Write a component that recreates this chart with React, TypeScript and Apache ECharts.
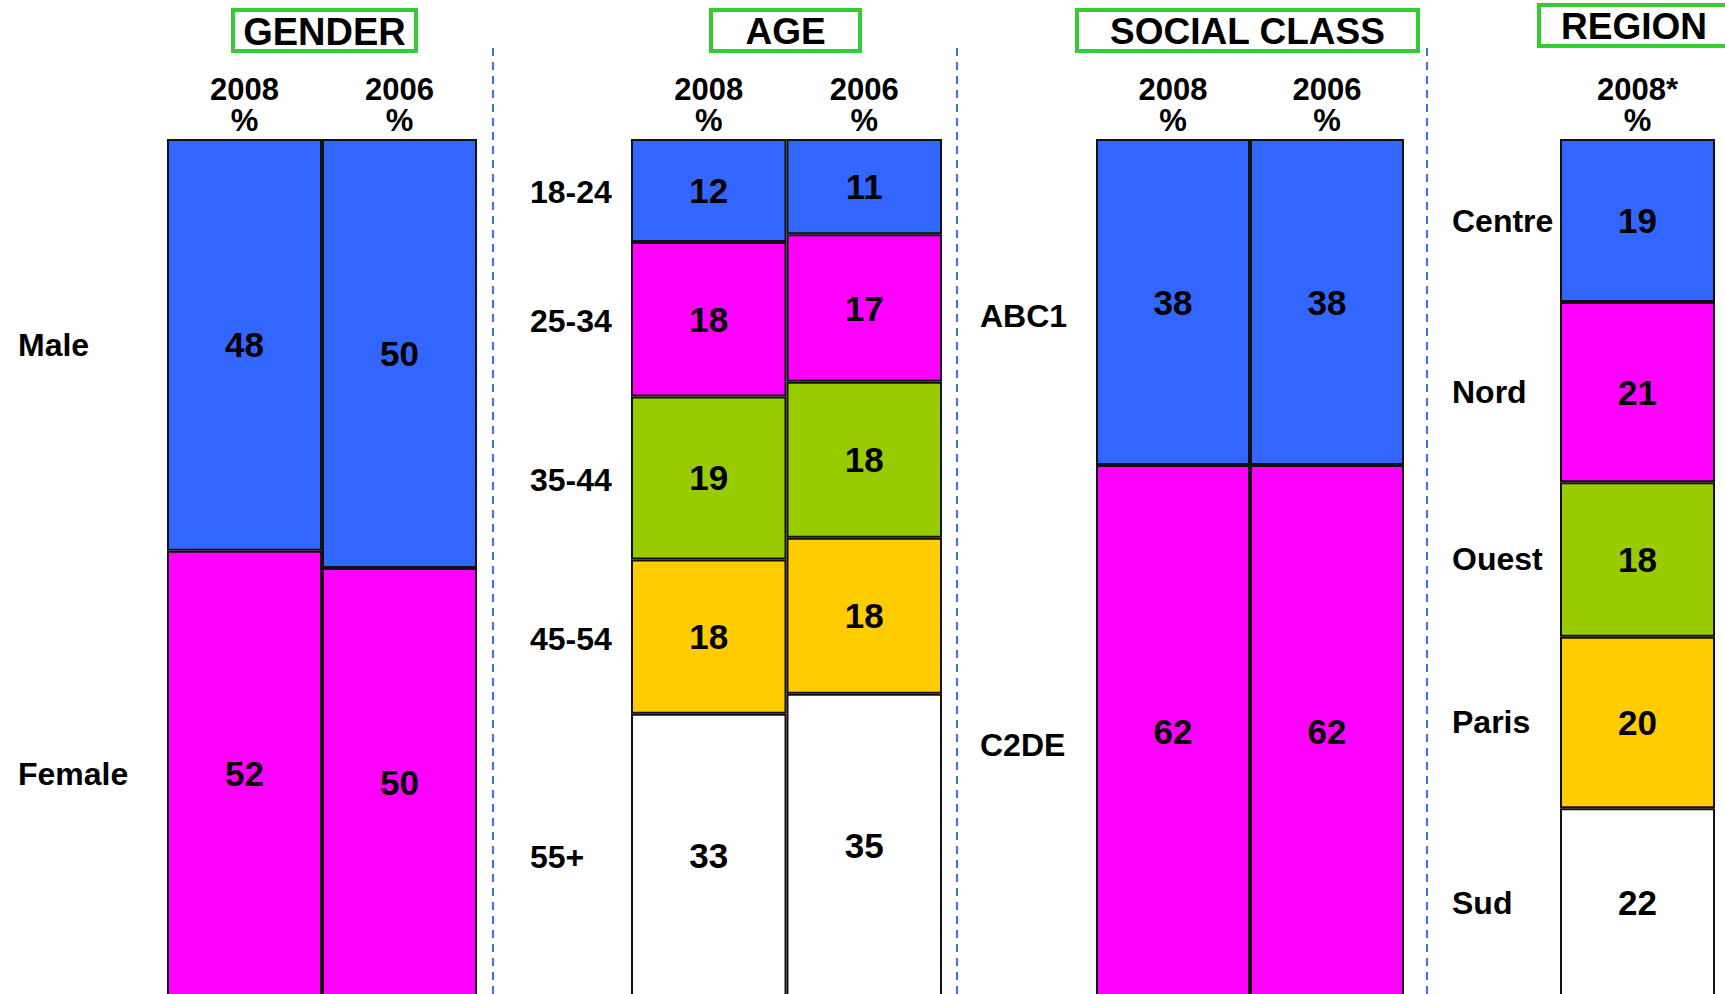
import React, { useEffect, useRef } from "react";
import * as echarts from "echarts";

// Survey profile data (percentages)
const genderYears = ["2008", "2006"];
const genderGroups = ["Male", "Female"];
const genderValues = [
  [48, 50],
  [52, 50],
];

const ageYears = ["2008", "2006"];
const ageGroups = ["18-24", "25-34", "35-44", "45-54", "55+"];
const ageValues = [
  [12, 11],
  [18, 17],
  [19, 18],
  [18, 18],
  [33, 35],
];

const classYears = ["2008", "2006"];
const classGroups = ["ABC1", "C2DE"];
const classValues = [
  [38, 38],
  [62, 62],
];

const regionYears = ["2008*"];
const regionGroups = ["Centre", "Nord", "Ouest", "Paris", "Sud"];
const regionValues = [[19], [21], [18], [20], [22]];

const segmentColors = ["#3366ff", "#ff00ff", "#99cc00", "#ffcc00", "#ffffff"];
const FONT = '"Liberation Sans", Arial, Helvetica, sans-serif';

type Panel = {
  title: string;
  titleSize: number;
  box: [number, number, number, number];
  gridLeft: number;
  gridWidth: number;
  labelX: number;
  labelDy: number;
  years: string[];
  groups: string[];
  values: number[][];
};

const panels: Panel[] = [
  { title: "GENDER", titleSize: 38, box: [233, 10, 183, 41], gridLeft: 167, gridWidth: 310, labelX: 18, labelDy: 0, years: genderYears, groups: genderGroups, values: genderValues },
  { title: "AGE", titleSize: 37, box: [711, 10, 149, 41], gridLeft: 631, gridWidth: 311, labelX: 530, labelDy: 2, years: ageYears, groups: ageGroups, values: ageValues },
  { title: "SOCIAL CLASS", titleSize: 37, box: [1077, 10, 341, 41], gridLeft: 1096, gridWidth: 308, labelX: 980, labelDy: 14, years: classYears, groups: classGroups, values: classValues },
  { title: "REGION", titleSize: 37, box: [1539, 5, 190, 41], gridLeft: 1560, gridWidth: 155, labelX: 1452, labelDy: 0, years: regionYears, groups: regionGroups, values: regionValues },
];

const dividerX = [493, 957, 1427];
const GRID_TOP = 139;
const GRID_HEIGHT = 858;
// the chart runs a little past the visible frame so the bars stay open at the bottom
const CHART_HEIGHT = 1012;

export default function App() {
  const ref = useRef<HTMLDivElement>(null);

  useEffect(() => {
    if (!ref.current) return;
    const chart = echarts.init(ref.current, undefined, { renderer: "svg" });

    const grids: any[] = [];
    const xAxes: any[] = [];
    const yAxes: any[] = [];
    const series: any[] = [];
    const firstSeriesOfPanel: number[] = [];

    panels.forEach((p, pi) => {
      grids.push({ left: p.gridLeft, top: GRID_TOP, width: p.gridWidth, height: GRID_HEIGHT, containLabel: false });
      xAxes.push({
        type: "category",
        gridIndex: pi,
        position: "top",
        data: p.years,
        axisLine: { show: false },
        axisTick: { show: false },
        splitLine: { show: false },
        axisLabel: {
          formatter: (v: string) => `${v}\n%`,
          fontFamily: FONT,
          fontSize: 31,
          fontWeight: "bold",
          lineHeight: 31,
          color: "#000",
          margin: 3,
        },
      });
      yAxes.push({ type: "value", gridIndex: pi, min: 0, max: 100, inverse: true, show: false });

      // column totals so each bar is stacked to 100%
      const totals = p.years.map((_, yi) => p.values.reduce((s, row) => s + row[yi], 0));
      firstSeriesOfPanel.push(series.length);
      p.groups.forEach((g, gi) => {
        series.push({
          type: "bar",
          name: `${p.title} ${g}`,
          xAxisIndex: pi,
          yAxisIndex: pi,
          stack: `panel${pi}`,
          barCategoryGap: "0%",
          data: p.values[gi].map((v, yi) => ({ value: (v / totals[yi]) * 100, raw: v })),
          itemStyle: { color: segmentColors[gi], borderColor: "#111", borderWidth: 2 },
          label: {
            show: true,
            position: "inside",
            formatter: (prm: any) => String(prm.data.raw),
            fontFamily: FONT,
            fontSize: 35,
            fontWeight: "bold",
            color: "#000",
          },
          emphasis: { disabled: true },
        });
      });
    });

    chart.setOption({
      animation: false,
      backgroundColor: "#ffffff",
      grid: grids,
      xAxis: xAxes,
      yAxis: yAxes,
      series,
    });

    const graphics: any[] = [];

    // dashed dividers between panels
    dividerX.forEach((x) => {
      graphics.push({
        type: "line",
        shape: { x1: x, y1: 48, x2: x, y2: CHART_HEIGHT },
        style: { stroke: "#3d6ef5", lineWidth: 2, lineDash: [8, 6] },
        z: 10,
      });
    });

    panels.forEach((p, pi) => {
      const [bx, by, bw, bh] = p.box;
      graphics.push({
        type: "rect",
        shape: { x: bx, y: by, width: bw, height: bh },
        style: { fill: "#ffffff", stroke: "#33cc33", lineWidth: 4 },
        z: 10,
      });
      graphics.push({
        type: "text",
        x: bx + bw / 2,
        y: by + bh / 2 + 1,
        style: {
          text: p.title,
          font: `bold ${p.titleSize}px ${FONT}`,
          fill: "#000",
          align: "center",
          verticalAlign: "middle",
          textAlign: "center",
          textVerticalAlign: "middle",
        },
        z: 11,
      });

      // group labels aligned with the middle of each segment in the first column
      const total = p.values.reduce((s, row) => s + row[0], 0);
      let cum = 0;
      p.groups.forEach((g, gi) => {
        const share = (p.values[gi][0] / total) * 100;
        const mid = cum + share / 2;
        cum += share;
        const pt = chart.convertToPixel({ seriesIndex: firstSeriesOfPanel[pi] }, [0, mid]) as number[];
        graphics.push({
          type: "text",
          x: p.labelX,
          y: pt[1] + p.labelDy,
          style: {
            text: g,
            font: `bold 32px ${FONT}`,
            fill: "#000",
            align: "left",
            verticalAlign: "middle",
            textAlign: "left",
            textVerticalAlign: "middle",
          },
          z: 11,
        });
      });
    });

    chart.setOption({ graphic: graphics });

    return () => chart.dispose();
  }, []);

  return (
    <div
      style={{ position: "absolute", left: 0, top: 0, width: 1725, height: 994, overflow: "hidden", background: "#fff" }}
    >
      <div ref={ref} style={{ width: 1725, height: CHART_HEIGHT }} />
    </div>
  );
}
